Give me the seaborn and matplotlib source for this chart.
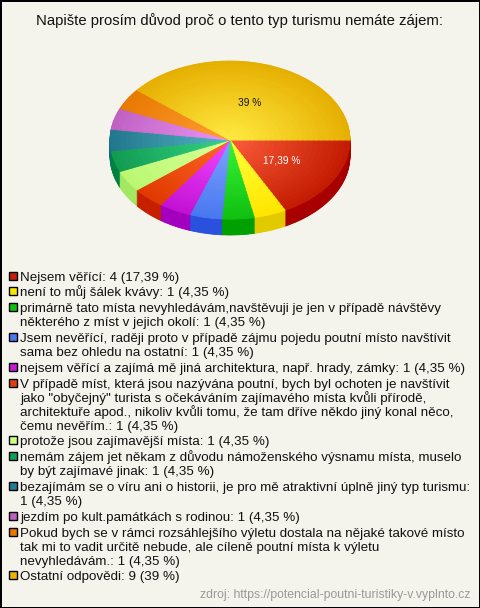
import numpy as np
import matplotlib
matplotlib.use("Agg")
import matplotlib.pyplot as plt
import seaborn as sns
from matplotlib.patches import Rectangle
from matplotlib.colors import to_rgb

sns.set_theme(style="white")
plt.rcParams["font.family"] = ["Liberation Sans", "DejaVu Sans"]

title = "Napište prosím důvod proč o tento typ turismu nemáte zájem:"
source = "zdroj: https://potencial-poutni-turistiky-v.vyplnto.cz"

labels = [
    "Nejsem věřící",
    "není to můj šálek kvávy",
    "primárně tato místa nevyhledávám,navštěvuji je jen v případě návštěvy\nněkterého z míst v jejich okolí",
    "Jsem nevěřící, raději proto v případě zájmu pojedu poutní místo navštívit\nsama bez ohledu na ostatní",
    "nejsem věřící a zajímá mě jiná architektura, např. hrady, zámky",
    "V případě míst, která jsou nazývána poutní, bych byl ochoten je navštívit\n"
    "jako \"obyčejný\" turista s očekáváním zajímavého místa kvůli přírodě,\n"
    "architektuře apod., nikoliv kvůli tomu, že tam dříve někdo jiný konal něco,\n"
    "čemu nevěřím.",
    "protože jsou zajímavější místa",
    "nemám zájem jet někam z důvodu námoženského výsnamu místa, muselo\nby být zajímavé jinak",
    "bezajímám se o víru ani o historii, je pro mě atraktivní úplně jiný typ turismu",
    "jezdím po kult.památkách s rodinou",
    "Pokud bych se v rámci rozsáhlejšího výletu dostala na nějaké takové místo\n"
    "tak mi to vadit určitě nebude, ale cíleně poutní místa k výletu\nnevyhledávám.",
    "Ostatní odpovědi",
]
counts = [4, 1, 1, 1, 1, 1, 1, 1, 1, 1, 1, 9]
pct_labels = ["17,39", "4,35", "4,35", "4,35", "4,35", "4,35",
              "4,35", "4,35", "4,35", "4,35", "4,35", "39"]
# entries whose count is pushed onto the next line
count_on_new_line = [8]

edge_colors = ["#C41C02", "#FFE600", "#12C012", "#4A78F0", "#C412D4", "#E03A02",
               "#BAF874", "#129C52", "#22788E", "#C062C4", "#E87A02", "#E6B002"]
center_colors = ["#F85A38", "#FFFF3A", "#34F234", "#7AA2FF", "#F044FF", "#FF6424",
                 "#DAFF94", "#34D284", "#52B2C2", "#EA92F2", "#FF9C32", "#FFE83E"]
side_colors = ["#A80000", "#E2CA00", "#00A000", "#2A50DE", "#A200BE", "#C62000",
               "#A2E862", "#00823E", "#166A84", "#9C4CA6", "#CE5E00", "#CC9800"]
legend_colors = ["#C42008", "#F8E800", "#10C010", "#4A78F2", "#C818D8", "#E04010",
                 "#CCFF84", "#10A058", "#207E94", "#C060C4", "#E87800", "#E8B400"]

bg = "#F4F3EC"
W, H = 480, 608


def box(x0, y0, x1, y1):
    return [x0 / W, 1 - y1 / H, (x1 - x0) / W, (y1 - y0) / H]


def blend(c1, c2, t):
    a, b = np.array(to_rgb(c1)), np.array(to_rgb(c2))
    return tuple(a + (b - a) * t)


def draw_pie(ax, colors, center=(0, 0), radius=1.0, **kw):
    out = ax.pie(counts, colors=colors, startangle=0, counterclock=False,
                 center=center, radius=radius, **kw)
    for w in out[0]:
        w.set_edgecolor(w.get_facecolor())
        w.set_linewidth(0.6)
    return out


fig = plt.figure(figsize=(4.8, 6.08), dpi=100)
fig.patch.set_facecolor(bg)
fig.patch.set_edgecolor("black")
fig.patch.set_linewidth(2)

fig.text(239 / W, 1 - 25 / H, title, ha="center", va="baseline",
         fontsize=10.7, color="#111111")

# pseudo 3D pie: stacked darker layers for the side, then a shaded top
depth = 0.2
ax = fig.add_axes(box(110, 61, 350, 235))
for k in np.linspace(depth, 0, 24, endpoint=False):
    draw_pie(ax, side_colors, center=(0, -k))

steps = 22
for s in range(steps):
    t = s / (steps - 1)
    cols = [blend(e, c, t) for e, c in zip(edge_colors, center_colors)]
    draw_pie(ax, cols, radius=1 - 0.93 * t)

_, _, autotexts = draw_pie(ax, [(0, 0, 0, 0)] * len(counts), autopct="%1.1f",
                           pctdistance=0.5, textprops=dict(fontsize=7.3))
for t, n, p in zip(autotexts, counts, pct_labels):
    t.set_text(f"{p} %" if n >= 4 else "")
autotexts[0].set_color("white")
autotexts[-1].set_color("#111111")

ax.set_xlim(-1, 1)
ax.set_ylim(-1 - depth, 1)
ax.set_aspect("auto")
ax.axis("off")

# legend
line_h, gap = 14.0, 1.8
base = 280.5
for i, (lab, n, p, c) in enumerate(zip(labels, counts, pct_labels, legend_colors)):
    sep = "\n" if i in count_on_new_line else " "
    lines = f"{lab}:{sep}{n} ({p} %)".split("\n")
    fig.add_artist(Rectangle((9 / W, 1 - (base - 1) / H), 8 / W, 8 / H,
                             transform=fig.transFigure, facecolor=c,
                             edgecolor="black", linewidth=1))
    for j, line in enumerate(lines):
        fig.text(20 / W, 1 - (base + j * line_h) / H, line, ha="left",
                 va="baseline", fontsize=9.6, color="#111111")
    base += len(lines) * line_h + gap

fig.text(470 / W, 1 - 598 / H, source, ha="right", va="baseline",
         fontsize=8.8, color="#999999")

fig.savefig("out.png", dpi=100, facecolor=fig.get_facecolor(),
            edgecolor=fig.get_edgecolor())
